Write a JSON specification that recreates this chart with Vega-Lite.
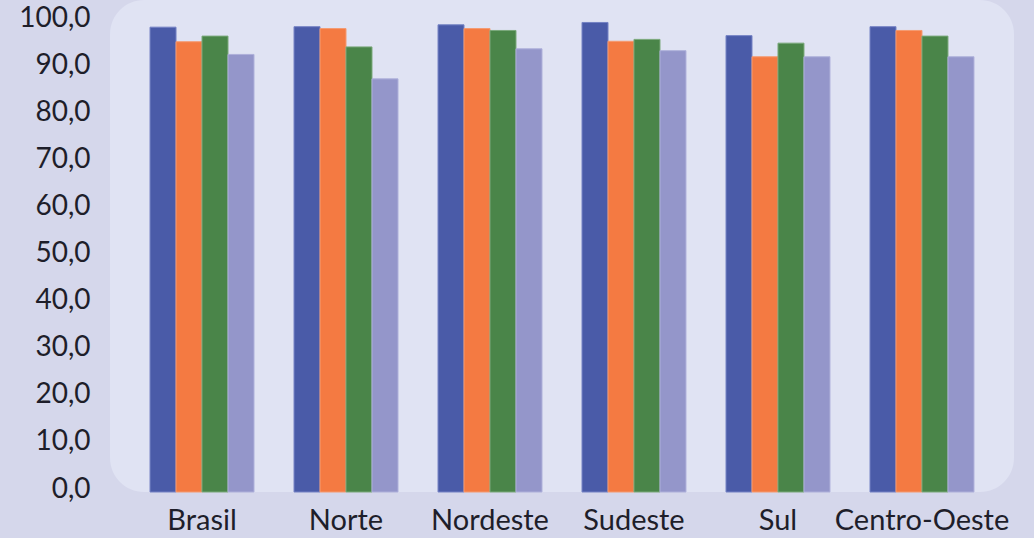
{
  "$schema": "https://vega.github.io/schema/vega-lite/v6.json",
  "width": 904,
  "height": 492,
  "autosize": {"type": "none"},
  "padding": {"left": 110, "top": 0, "right": 20, "bottom": 46},
  "background": "#d5d7eb",
  "view": {"fill": "#e0e3f3", "stroke": null, "cornerRadius": 34},
  "data": {
    "values": [
      {"regiao": "Brasil", "serie": "s1", "valor": 98.9},
      {"regiao": "Brasil", "serie": "s2", "valor": 95.8},
      {"regiao": "Brasil", "serie": "s3", "valor": 97.0},
      {"regiao": "Brasil", "serie": "s4", "valor": 93.1},
      {"regiao": "Norte", "serie": "s1", "valor": 99.0},
      {"regiao": "Norte", "serie": "s2", "valor": 98.6},
      {"regiao": "Norte", "serie": "s3", "valor": 94.7},
      {"regiao": "Norte", "serie": "s4", "valor": 87.9},
      {"regiao": "Nordeste", "serie": "s1", "valor": 99.4},
      {"regiao": "Nordeste", "serie": "s2", "valor": 98.6},
      {"regiao": "Nordeste", "serie": "s3", "valor": 98.2},
      {"regiao": "Nordeste", "serie": "s4", "valor": 94.3},
      {"regiao": "Sudeste", "serie": "s1", "valor": 99.9},
      {"regiao": "Sudeste", "serie": "s2", "valor": 95.9},
      {"regiao": "Sudeste", "serie": "s3", "valor": 96.3},
      {"regiao": "Sudeste", "serie": "s4", "valor": 93.9},
      {"regiao": "Sul", "serie": "s1", "valor": 97.1},
      {"regiao": "Sul", "serie": "s2", "valor": 92.6},
      {"regiao": "Sul", "serie": "s3", "valor": 95.5},
      {"regiao": "Sul", "serie": "s4", "valor": 92.6},
      {"regiao": "Centro-Oeste", "serie": "s1", "valor": 99.0},
      {"regiao": "Centro-Oeste", "serie": "s2", "valor": 98.2},
      {"regiao": "Centro-Oeste", "serie": "s3", "valor": 97.0},
      {"regiao": "Centro-Oeste", "serie": "s4", "valor": 92.6}
    ]
  },
  "mark": {"type": "bar", "strokeWidth": 1},
  "encoding": {
    "x": {
      "field": "regiao",
      "type": "nominal",
      "sort": null,
      "scale": {"paddingInner": 0.278, "paddingOuter": 0.278},
      "axis": {
        "title": null,
        "labelAngle": 0,
        "labelFont": "Lato",
        "labelFontSize": 29,
        "labelColor": "#1e1e2a",
        "labelPadding": 14,
        "ticks": false,
        "domain": false
      }
    },
    "xOffset": {"field": "serie", "type": "nominal", "scale": {"paddingInner": 0, "paddingOuter": 0}},
    "y": {
      "field": "valor",
      "type": "quantitative",
      "scale": {"domain": [0, 104.68], "nice": false},
      "axis": {
        "title": null,
        "values": [0, 10, 20, 30, 40, 50, 60, 70, 80, 90, 100],
        "labelExpr": "replace(format(datum.value, '.1f'), '.', ',')",
        "labelFont": "Lato",
        "labelFontSize": 28,
        "labelColor": "#1e1e2a",
        "labelPadding": 20,
        "labelOffset": -3,
        "ticks": false,
        "domain": false,
        "grid": false
      }
    },
    "color": {
      "field": "serie",
      "type": "nominal",
      "scale": {"domain": ["s1", "s2", "s3", "s4"], "range": ["#4a5ba8", "#f47a42", "#4a8549", "#9496ca"]},
      "legend": null
    },
    "stroke": {
      "field": "serie",
      "type": "nominal",
      "scale": {"domain": ["s1", "s2", "s3", "s4"], "range": ["#7482c4", "#f59a70", "#7aa87a", "#aeb0da"]},
      "legend": null
    }
  }
}
